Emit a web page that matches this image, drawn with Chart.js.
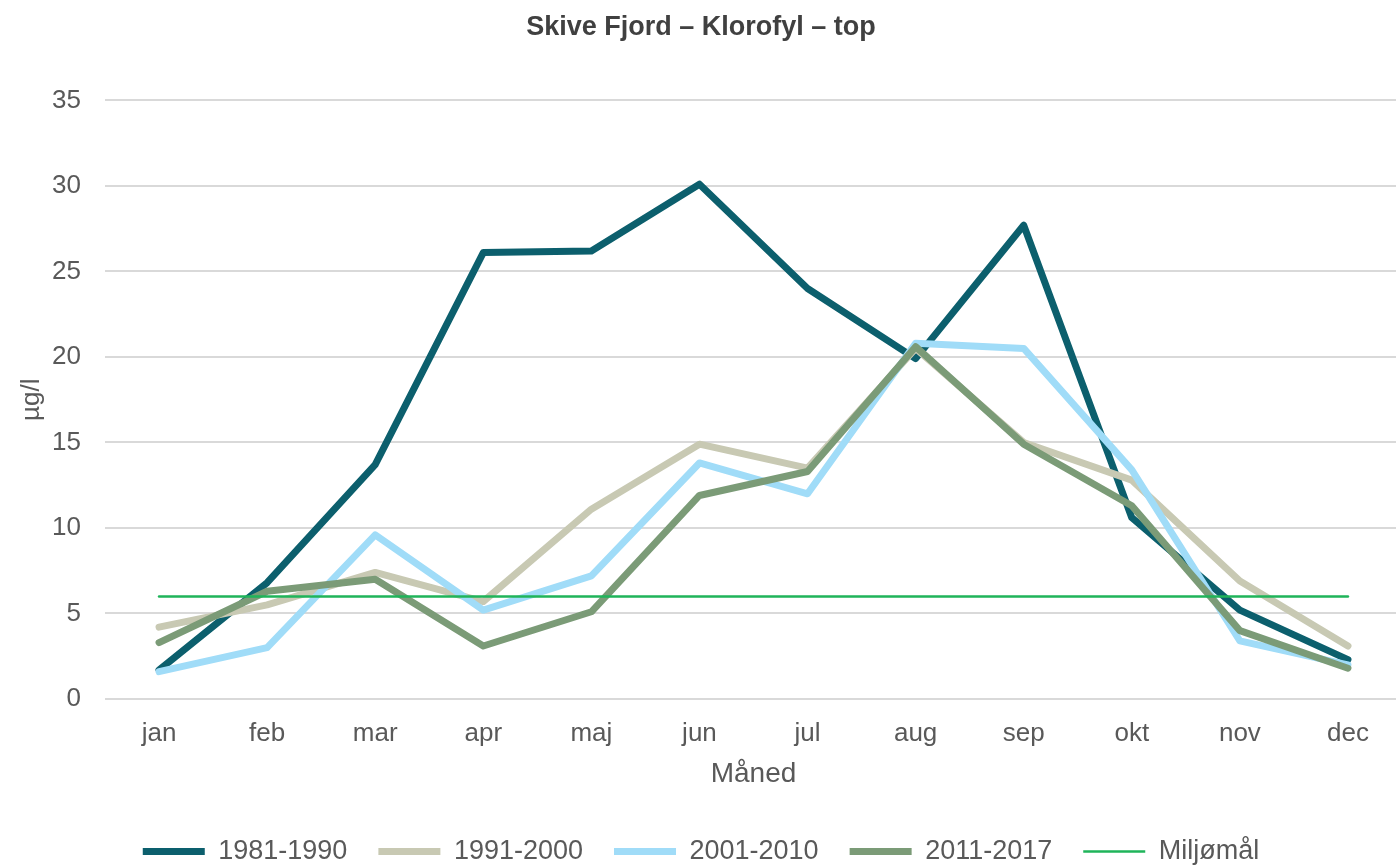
<!DOCTYPE html>
<html>
<head>
<meta charset="utf-8">
<script src="https://cdn.jsdelivr.net/npm/chart.js@4.4.1/dist/chart.umd.min.js"></script>
<style>
  html, body { margin: 0; padding: 0; background: #fff; overflow: hidden; }
  #wrap { width: 1410px; height: 875px; }
</style>
</head>
<body>
<div id="wrap"><canvas id="klorofylChart" width="1410" height="875"></canvas></div>
<script>
// Data
const months = ['jan', 'feb', 'mar', 'apr', 'maj', 'jun', 'jul', 'aug', 'sep', 'okt', 'nov', 'dec'];
const yTicks = [0, 5, 10, 15, 20, 25, 30, 35];
const p1981_1990 = [1.7, 6.8, 13.7, 26.1, 26.2, 30.1, 24.0, 19.9, 27.7, 10.6, 5.2, 2.3];
const p1991_2000 = [4.2, 5.5, 7.4, 5.7, 11.1, 14.9, 13.5, 20.5, 15.0, 12.8, 6.9, 3.1];
const p2001_2010 = [1.6, 3.0, 9.6, 5.2, 7.2, 13.8, 12.0, 20.8, 20.5, 13.4, 3.4, 2.0];
const p2011_2017 = [3.3, 6.3, 7.0, 3.1, 5.1, 11.9, 13.3, 20.6, 14.9, 11.3, 4.0, 1.8];
const miljomaal = [6, 6, 6, 6, 6, 6, 6, 6, 6, 6, 6, 6];

const FONT = '"Liberation Sans", Arial, sans-serif';
const TXT = '#595959';

function serie(label, data, color, width, order) {
    return {
        label: label,
        data: data,
        borderColor: color,
        backgroundColor: color,
        borderWidth: width,
        borderCapStyle: 'round',
        borderJoinStyle: 'round',
        tension: 0,
        pointRadius: 0,
        fill: false,
        order: order
    };
}

document.addEventListener('DOMContentLoaded', function() {
    const ctx = document.getElementById('klorofylChart').getContext('2d');
    new Chart(ctx, {
        type: 'line',
        data: {
            labels: months,
            datasets: [
                serie('1981-1990', p1981_1990, '#0c5f6d', 7, 5),
                serie('1991-2000', p1991_2000, '#c8c9b3', 7, 4),
                serie('2001-2010', p2001_2010, '#a0dcf8', 7, 3),
                serie('2011-2017', p2011_2017, '#7b9b77', 7, 2),
                serie('Miljømål', miljomaal, '#1fb45a', 2.5, 1)
            ]
        },
        options: {
            responsive: false,
            animation: false,
            devicePixelRatio: 1,
            layout: { padding: { left: 0, right: 8, top: 0, bottom: 0 } },
            plugins: {
                title: {
                    display: true,
                    text: 'Skive Fjord – Klorofyl – top',
                    color: '#404040',
                    font: { family: FONT, size: 27, weight: 'bold' },
                    padding: { top: 11, bottom: 57 }
                },
                legend: {
                    position: 'bottom',
                    labels: {
                        usePointStyle: true,
                        pointStyle: 'line',
                        pointStyleWidth: 62,
                        color: TXT,
                        font: { family: FONT, size: 27 },
                        padding: 31,
                        sort: function(a, b) { return a.datasetIndex - b.datasetIndex; }
                    }
                },
                tooltip: { enabled: false }
            },
            scales: {
                x: {
                    offset: true,
                    afterFit: function(scale) { scale.height = 108; },
                    grid: { display: false },
                    border: { display: false },
                    ticks: { color: TXT, font: { family: FONT, size: 26 }, padding: 11 },
                    title: {
                        display: true,
                        text: 'Måned',
                        color: TXT,
                        font: { family: FONT, size: 28 },
                        padding: { top: 0, bottom: 16 }
                    }
                },
                y: {
                    min: yTicks[0],
                    max: yTicks[yTicks.length - 1],
                    afterBuildTicks: function(scale) {
                        scale.ticks = yTicks.map(function(v) { return { value: v }; });
                    },
                    afterFit: function(scale) { scale.width = 105; },
                    grid: { color: '#d9d9d9', lineWidth: 2, drawTicks: false },
                    border: { display: false },
                    ticks: { color: TXT, font: { family: FONT, size: 26 }, padding: 24 },
                    title: {
                        display: true,
                        text: 'µg/l',
                        color: TXT,
                        font: { family: FONT, size: 26 },
                        padding: { top: 16, bottom: 0 }
                    }
                }
            }
        }
    });
});
</script>
</body>
</html>
